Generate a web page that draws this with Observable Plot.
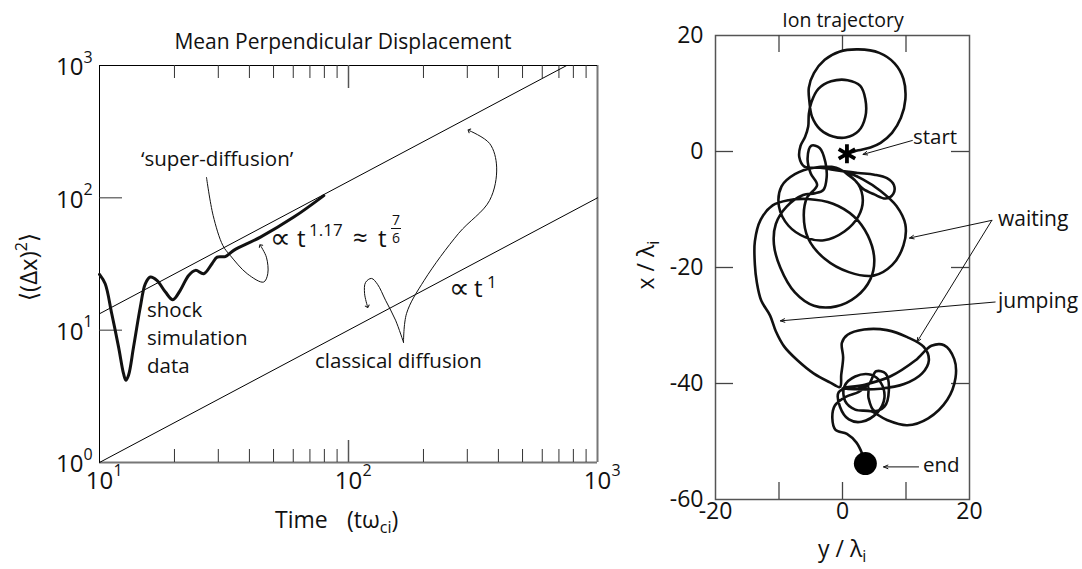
<!DOCTYPE html>
<html>
<head>
<meta charset="utf-8">
<script src="https://cdn.jsdelivr.net/npm/d3@7"></script>
<script src="https://cdn.jsdelivr.net/npm/@observablehq/plot@0.6"></script>
<style>
  html, body { margin: 0; padding: 0; background: #fff; }
  #wrap { position: relative; width: 1082px; height: 569px; overflow: hidden; background: #fff; }
  #left { position: absolute; left: 0; top: 0; }
  #right { position: absolute; left: 620px; top: 0; }
</style>
</head>
<body>
<div id="wrap"><div id="left"></div><div id="right"></div></div>
<script>
const FONT = "'Open Sans', 'DejaVu Sans', sans-serif";
const INK = "#111";

// ---------------- Left panel: mean perpendicular displacement ----------------
const simTime = [10, 10.54, 11.2, 11.93, 12.49, 12.76, 13.08, 13.7, 14.58, 15.27, 16.0, 17.0, 18.4, 19.7, 21.1, 22.8, 24.3, 26.2, 28.3, 29.7, 32.0, 34.6, 44.3, 60.3, 79.6];
const simDisp = [26.4, 22.4, 13.3, 7.45, 4.69, 4.18, 4.56, 7.45, 14.9, 22.4, 25.2, 23.8, 19.4, 17.0, 20.0, 25.9, 28.3, 26.7, 31.8, 35.6, 36.0, 40.1, 50.5, 71.5, 104];
const classicalTime = [10, 1000];
const classicalDisp = [1, 100];
const superTime = [10, 752];
const superDisp = [13.3, 1000];
const xMinorTicks = [20, 30, 40, 50, 60, 70, 80, 90, 200, 300, 400, 500, 600, 700, 800, 900];
const xMajorTicks = [100];
const yMajorTicks = [10, 100];
const xTickValues = [10, 100, 1000];
const xTickExps = ["1", "2", "3"];
const yTickValues = [1, 10, 100, 1000];
const yTickExps = ["0", "1", "2", "3"];
// annotation leader curves (data coordinates)
const superLeaderTime = [26.9, 28.6, 31.3, 33.5, 39.2, 45.6, 47.4, 46.8, 44.3];
const superLeaderDisp = [142.6, 73.6, 43.6, 36.7, 26.7, 23.1, 26.7, 35.6, 43.6];
const classLeaderATime = [166.3, 154.5, 140.9, 130.8, 123.7, 117.1, 116.0, 119.2];
const classLeaderADisp = [8.09, 11.9, 16.8, 22.2, 24.6, 22.96, 18.97, 15.1];
const classLeaderBTime = [166.3, 171.1, 201.4, 276.9, 368.7, 393.5, 368.7, 304.8];
const classLeaderBDisp = [8.09, 13.4, 23.8, 53.9, 95.6, 170.6, 257.6, 322.9];

// ---------------- Right panel: ion trajectory ----------------
const trajY = [0.7,2.5,4.4,6.0,7.8,9.2,9.9,9.6,8.2,5.8,2.5,-0.5,-2.8,-4.5,-5.3,-5.2,
 -4.8,-3.5,-1.5,0.5,2.5,3.6,3.6,2.8,0.8,-1.8,-3.8,-4.9,-5.3,-5.4,
 -5.9,-6.6,-6.8,-6.0,
 -3.5,-0.5,2.5,5.0,7.0,8.1,8.0,6.8,5.0,3.2,
 1.5,-1.0,-4.5,-7.5,-9.6,-10.0,-8.5,-5.8,-2.9,0.3,2.5,3.2,2.4,0.3,
 3.2,6.0,8.5,9.9,9.6,7.8,4.9,1.0,-2.8,-5.4,-6.1,-5.6,-4.0,
 -5.0,-5.5,-4.9,-3.6,-2.7,-2.5,-3.0,-4.3,
 -6.2,-8.8,-10.5,-10.8,-9.8,-7.5,-4.5,-1.0,2.2,4.4,5.0,4.0,1.8,-1.5,-5.5,
 -8.5,-11.0,-12.9,-13.8,-13.8,-13.5,-12.8,-11.4,-10.5,-9.2,-7.1,-4.5,-2.0,-0.4,
 -0.2,0.1,-0.1,0.8,3.4,7.0,10.2,12.8,13.6,12.5,9.7,6.0,2.5,0.0,
 3.5,7.5,11.5,14.0,16.0,17.6,17.8,16.5,13.5,10.2,7.0,4.5,
 2.0,0.4,0.3,2.0,4.5,6.0,6.6,5.5,3.0,1.0,-0.4,-0.6,
 1.5,4.0,5.3,6.8,7.3,6.6,5.0,4.1,4.0,
 2.5,0.5,-1.2,-1.6,-1.1,0.7,2.2,3.1,3.6];
const trajX = [-0.4,0.2,0.7,1.5,3.2,5.8,9.0,12.5,15.2,17.0,17.6,17.2,15.8,13.5,11.0,8.5,
 6.0,3.8,2.6,2.4,3.5,6.0,9.0,11.3,12.3,12.1,10.8,8.5,6.5,4.3,
 2.5,1.0,-1.0,-2.6,
 -2.8,-3.3,-3.7,-4.0,-4.6,-5.8,-7.3,-8.1,-7.4,-6.4,
 -4.5,-2.8,-2.8,-3.9,-6.0,-9.5,-12.8,-14.8,-15.3,-13.8,-11.2,-8.4,-5.5,-3.5,
 -4.8,-6.8,-9.4,-12.6,-16.2,-19.6,-21.4,-20.8,-18.5,-15.0,-11.0,-8.0,-5.8,
 -3.8,-1.2,1.0,0.6,-1.8,-4.5,-6.6,-7.2,
 -7.5,-9.5,-12.5,-16.0,-20.0,-24.3,-26.6,-26.7,-25.0,-22.0,-18.5,-14.5,-11.2,-9.0,-8.2,
 -8.4,-9.3,-11.8,-15.5,-19.5,-22.5,-25.7,-28.3,-31.0,-33.6,-36.0,-38.3,-39.8,-40.6,
 -38.5,-35.5,-33.0,-31.6,-30.7,-30.8,-32.0,-33.7,-36.0,-38.3,-40.1,-40.9,-41.0,-40.8,
 -40.2,-38.8,-36.0,-33.5,-33.4,-35.8,-39.0,-42.8,-46.0,-47.2,-46.3,-44.8,
 -44.5,-43.0,-40.5,-38.8,-38.5,-39.8,-42.5,-45.0,-46.6,-46.2,-44.0,-41.5,
 -40.6,-40.3,-37.9,-38.3,-41.2,-44.0,-44.7,-42.5,-40.5,
 -41.5,-42.3,-43.8,-46.0,-48.0,-48.7,-50.2,-52.1,-53.8];
const hTicks = [-10, 0, 10];
const vTicks = [0, -20, -40];
const hTickLabels = [-20, 0, 20];
const vTickLabels = [20, 0, -20, -40, -60];
// annotation arrows in λ units (from -> to)
const arrowFromY = [11.0, 23.52, 23.52, 24.04, 11.98];
const arrowFromX = [1.9, -11.87, -11.87, -25.95, -54.38];
const arrowToY = [3.23, 10.56, 11.73, -9.78, 6.47];
const arrowToX = [-0.5, -14.92, -32.84, -29.2, -54.38];

// ---------------- helpers ----------------
const zip = (a, b) => a.slice(0, Math.min(a.length, b.length)).map((v, i) => ({a: v, b: b[i]}));
function addText(svg, spec) {
  const t = d3.select(svg).append("text")
    .attr("font-family", FONT).attr("fill", INK)
    .attr("text-anchor", spec.anchor || "start")
    .attr("font-size", spec.size || 20);
  if (spec.transform) t.attr("transform", spec.transform);
  for (const p of spec.parts) {
    const s = t.append("tspan").text(p.t);
    if (p.size) s.attr("font-size", p.size);
    if (p.x != null) s.attr("x", p.x);
    if (p.y != null) s.attr("y", p.y);
    if (p.dx != null) s.attr("dx", p.dx);
    if (p.dy != null) s.attr("dy", p.dy);
  }
  return t;
}

// ---------------- Left plot ----------------
const LW = 610, LH = 569, LML = 99, LMR = 13, LMT = 65, LMB = 107;
const LIW = LW - LML - LMR, LIH = LH - LMT - LMB;
const sim = zip(simTime, simDisp);
const xLab = xTickValues.map((v, i) => ({v, e: xTickExps[i]}));
const yLab = yTickValues.map((v, i) => ({v, e: yTickExps[i]}));

const left = Plot.plot({
  width: LW, height: LH,
  marginLeft: LML, marginRight: LMR, marginTop: LMT, marginBottom: LMB,
  x: {type: "log", domain: [10, 1000], axis: null},
  y: {type: "log", domain: [1, 1000], axis: null},
  style: {fontFamily: FONT, background: "transparent", overflow: "visible", color: INK},
  marks: [
    Plot.ruleY([1], {stroke: "#777", strokeWidth: 2}),
    Plot.ruleX([1000], {stroke: "#777", strokeWidth: 2}),
    Plot.ruleX([10], {stroke: "#000", strokeWidth: 1}),
    Plot.ruleY([1000], {stroke: "#000", strokeWidth: 1}),
    Plot.tickX(xMinorTicks, {x: d => d, insetTop: LIH - 13, stroke: "#333"}),
    Plot.tickX(xMinorTicks, {x: d => d, insetBottom: LIH - 13, stroke: "#333"}),
    Plot.tickX(xMajorTicks, {x: d => d, insetTop: LIH - 22, stroke: "#555", strokeWidth: 1.5}),
    Plot.tickX(xMajorTicks, {x: d => d, insetBottom: LIH - 23, stroke: "#555", strokeWidth: 1.5}),
    Plot.tickY(yMajorTicks, {y: d => d, insetRight: LIW - 23, stroke: "#333"}),
    Plot.text(xLab, {x: "v", text: () => "10", frameAnchor: "bottom", dy: 26, fontSize: 24, fill: INK}),
    Plot.text(xLab, {x: "v", text: "e", frameAnchor: "bottom", dx: 14, dy: 13, fontSize: 16, textAnchor: "start", fill: INK}),
    Plot.text(yLab, {y: "v", text: () => "10", frameAnchor: "left", dx: -16, dy: 2, fontSize: 24, textAnchor: "end", fill: INK}),
    Plot.text(yLab, {y: "v", text: "e", frameAnchor: "left", dx: -16, dy: -8, fontSize: 16, textAnchor: "start", fill: INK}),
    Plot.line(zip(classicalTime, classicalDisp), {x: "a", y: "b", stroke: "#000", strokeWidth: 1}),
    Plot.line(zip(superTime, superDisp), {x: "a", y: "b", stroke: "#000", strokeWidth: 1}),
    Plot.line(sim, {x: "a", y: "b", stroke: INK, strokeWidth: 3, curve: "catmull-rom"}),
    Plot.line(zip(superLeaderTime, superLeaderDisp), {x: "a", y: "b", stroke: INK, strokeWidth: 1, curve: "catmull-rom", markerEnd: "arrow"}),
    Plot.line(zip(classLeaderATime, classLeaderADisp), {x: "a", y: "b", stroke: INK, strokeWidth: 1, curve: "catmull-rom", markerEnd: "arrow"}),
    Plot.line(zip(classLeaderBTime, classLeaderBDisp), {x: "a", y: "b", stroke: INK, strokeWidth: 1, curve: "catmull-rom", markerEnd: "arrow"})
  ]
});
document.getElementById("left").appendChild(left);

addText(left, {anchor: "middle", size: 21, parts: [{t: "Mean Perpendicular Displacement", x: 343, y: 49}]});
addText(left, {size: 20.5, parts: [{t: "\u2018super-diffusion\u2019", x: 141, y: 166}]});
addText(left, {size: 20.5, parts: [{t: "shock", x: 147, y: 316.5}, {t: "simulation", x: 147, y: 345}, {t: "data", x: 147, y: 373}]});
addText(left, {size: 20.5, parts: [{t: "classical diffusion", x: 315, y: 368}]});
addText(left, {size: 24, parts: [
  {t: "\u221D", x: 270, y: 248, size: 29}, {t: "t", x: 297, y: 247},
  {t: "1.17", x: 309, y: 236, size: 17},
  {t: "\u2248", x: 353, y: 247, size: 26}, {t: "t", x: 378, y: 247}
]});
addText(left, {anchor: "middle", size: 14, parts: [{t: "7", x: 396, y: 224.5}]});
addText(left, {anchor: "middle", size: 14, parts: [{t: "6", x: 396, y: 243}]});
d3.select(left).append("line").attr("x1", 391).attr("x2", 401).attr("y1", 228.5).attr("y2", 228.5).attr("stroke", INK).attr("stroke-width", 1);
addText(left, {size: 24, parts: [
  {t: "\u221D", x: 449, y: 298, size: 29}, {t: "t", x: 474, y: 297}, {t: "1", x: 487, y: 288, size: 17}
]});
addText(left, {anchor: "middle", size: 24, transform: "translate(37,267) rotate(-90)", parts: [
  {t: "\u27E8(\u0394x)"}, {t: "2", size: 16, dy: -10}, {t: "\u27E9", dy: 10}
]});
addText(left, {size: 23, parts: [
  {t: "Time", x: 275, y: 528}, {t: "(t\u03C9", x: 347, y: 528},
  {t: "ci", size: 16, dy: 5}, {t: ")", dy: -5}
]});

// ---------------- Right plot ----------------
const RW = 462, RH = 569, RML = 95, RMR = 113, RMT = 35, RMB = 70;
const RIW = RW - RML - RMR, RIH = RH - RMT - RMB;
const traj = zip(trajY, trajX);
const arrows = arrowFromY.map((v, i) => ({y1: v, x1: arrowFromX[i], y2: arrowToY[i], x2: arrowToX[i]}));

const right = Plot.plot({
  width: RW, height: RH,
  marginLeft: RML, marginRight: RMR, marginTop: RMT, marginBottom: RMB,
  x: {domain: [-20, 20], axis: null},
  y: {domain: [-60, 20], axis: null},
  style: {fontFamily: FONT, background: "transparent", overflow: "visible", color: INK},
  marks: [
    Plot.frame({stroke: "#555", strokeWidth: 1.5}),
    Plot.tickX(hTicks, {x: d => d, insetTop: RIH - 17, stroke: "#444", strokeWidth: 1.3}),
    Plot.tickX(hTicks, {x: d => d, insetBottom: RIH - 17, stroke: "#444", strokeWidth: 1.3}),
    Plot.tickY(vTicks, {y: d => d, insetRight: RIW - 18, stroke: "#444", strokeWidth: 1.3}),
    Plot.tickY(vTicks, {y: d => d, insetLeft: RIW - 18, stroke: "#444", strokeWidth: 1.3}),
    Plot.text(hTickLabels, {x: d => d, text: d => String(d), frameAnchor: "bottom", dy: 19, fontSize: 23, fill: INK}),
    Plot.text(vTickLabels, {y: d => d, text: d => String(d), frameAnchor: "left", dx: -12, fontSize: 23, textAnchor: "end", fill: INK}),
    Plot.line(traj, {x: "a", y: "b", stroke: INK, strokeWidth: 2.6, curve: "catmull-rom", strokeLinejoin: "round"}),
    Plot.dot(traj.slice(0, 1), {x: "a", y: "b", symbol: "asterisk", r: 9, stroke: "#000", strokeWidth: 3.8}),
    Plot.dot(traj.slice(-1), {x: "a", y: "b", r: 11.5, fill: "#000", stroke: "none"}),
    Plot.arrow(arrows, {x1: "y1", y1: "x1", x2: "y2", y2: "x2", stroke: INK, strokeWidth: 1, headLength: 7, headAngle: 45})
  ]
});
document.getElementById("right").appendChild(right);

addText(right, {anchor: "middle", size: 19.5, parts: [{t: "Ion trajectory", x: 223, y: 27}]});
addText(right, {size: 20.5, parts: [{t: "start", x: 293, y: 144}]});
addText(right, {size: 21, parts: [{t: "waiting", x: 378, y: 226}]});
addText(right, {size: 21, parts: [{t: "jumping", x: 378, y: 308}]});
addText(right, {size: 20.5, parts: [{t: "end", x: 303, y: 472}]});
addText(right, {size: 23, parts: [{t: "y / \u03BB", x: 198, y: 557}, {t: "i", size: 16, dy: 5}]});
addText(right, {anchor: "middle", size: 23, transform: "translate(34,265) rotate(-90)", parts: [
  {t: "x / \u03BB"}, {t: "i", size: 16, dy: 5}
]});
</script>
</body>
</html>
